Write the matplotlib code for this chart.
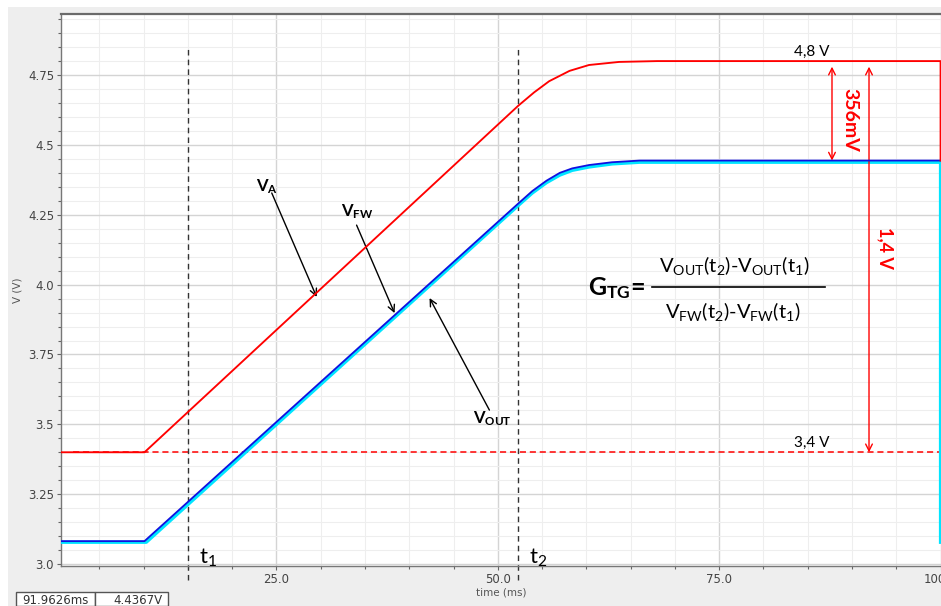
import matplotlib
matplotlib.use("Agg")
import matplotlib.pyplot as plt
from matplotlib.ticker import MultipleLocator
from matplotlib.patches import Rectangle

plt.rcParams["mathtext.fontset"] = "custom"
plt.rcParams["mathtext.rm"] = "Lato"
plt.rcParams["mathtext.it"] = "Lato:italic"
plt.rcParams["mathtext.bf"] = "Lato:bold"

# ---- waveform data (time in ms, voltage in V) ----
t_va = [0.67, 10.1, 52.3, 54.1, 55.8, 58.1, 60.3, 63.7, 68.0, 100.0, 100.0]
v_va = [3.40, 3.40, 4.640, 4.688, 4.728, 4.765, 4.786, 4.797, 4.800, 4.800, 4.444]

t_fw = [0.67, 10.1, 52.3, 53.9, 55.5, 57.0, 58.4, 60.3, 62.9, 66.0, 100.0]
v_fw = [3.082, 3.082, 4.290, 4.335, 4.372, 4.400, 4.416, 4.428, 4.438, 4.444, 4.444]

t_out = [0.67, 10.3, 52.3, 53.9, 55.5, 57.0, 58.4, 60.3, 62.9, 66.0, 100.0, 100.0]
v_out = [3.078, 3.078, 4.283, 4.328, 4.365, 4.392, 4.409, 4.421, 4.432, 4.438, 4.438, 3.078]

ref_level = 3.40
ref_span = [2.0, 100.0]
v_top = 4.80
t1 = 15.0
t2 = 52.3

x_ticks = [25.0, 50.0, 75.0, 100.0]
x_ticklabels = ["25.0", "50.0", "75.0", "100.0"]
y_ticks = [3.0, 3.25, 3.5, 3.75, 4.0, 4.25, 4.5, 4.75]
y_ticklabels = ["3.0", "3.25", "3.5", "3.75", "4.0", "4.25", "4.5", "4.75"]

W, H = 941, 606
fig = plt.figure(figsize=(W / 100, H / 100), dpi=100)
fig.patch.set_facecolor("white")
fig.patches.append(Rectangle((8 / W, 0), 1, 1 - 7 / H, transform=fig.transFigure,
                             facecolor="#eeeeee", edgecolor="none", zorder=-10))

ax = fig.add_axes([61 / W, 1 - 566 / H, 880 / W, 552 / H])
ax.set_facecolor("white")
ax.set_xlim(0.67, 100.05)
ax.set_ylim(2.993, 4.9685)

ax.set_xticks(x_ticks)
ax.set_xticklabels(x_ticklabels)
ax.set_yticks(y_ticks)
ax.set_yticklabels(y_ticklabels)
ax.xaxis.set_minor_locator(MultipleLocator(5))
ax.yaxis.set_minor_locator(MultipleLocator(0.05))
ax.tick_params(which="both", labelsize=8.5, labelcolor="#444444", color="#666666", width=0.8)
ax.tick_params(which="major", length=3, pad=2)
ax.tick_params(which="minor", length=2)

ax.grid(which="major", color="#d4d4d4", lw=1.0)
ax.grid(which="minor", color="#eeeeee", lw=0.8)
ax.set_axisbelow(True)

for side in ("left", "bottom"):
    ax.spines[side].set_color("#777777")
    ax.spines[side].set_linewidth(1.0)
ax.spines["top"].set_color("#6a6a6a")
ax.spines["top"].set_linewidth(1.6)
ax.spines["right"].set_visible(False)

ax.set_xlabel("time (ms)", fontsize=7.5, color="#555555", labelpad=1)
ax.set_ylabel("V (V)", fontsize=7.5, color="#555555", labelpad=4)

# reference level and marker lines
ax.plot(ref_span, [ref_level, ref_level], color="red", lw=1.1, ls=(0, (4, 2.5)), zorder=2)
for tm in (t1, t2):
    ax.plot([tm, tm], [2.943, 4.843], color="#333333", lw=1.0, ls=(0, (4, 3)),
            clip_on=False, zorder=2)

# signals
ax.plot(t_out, v_out, color="#00e5ff", lw=2.4, zorder=3, solid_joinstyle="round")
ax.plot(t_fw, v_fw, color="#1010e0", lw=1.3, zorder=4, solid_joinstyle="round")
ax.plot(t_va, v_va, color="red", lw=1.35, zorder=5, solid_joinstyle="round")

# signal name labels with arrows
sig_font = dict(fontfamily="Lato", fontweight="bold", fontsize=12, color="black")
arrow_black = dict(arrowstyle="->", color="black", lw=1.0, shrinkA=0, shrinkB=0,
                   mutation_scale=12)
ax.annotate("", xy=(29.54, 3.956), xytext=(24.47, 4.328), arrowprops=arrow_black)
ax.text(23.9, 4.335, r"V$_\mathbf{A}$", ha="center", va="baseline", **sig_font)
ax.annotate("", xy=(38.34, 3.898), xytext=(34.05, 4.213), arrowprops=arrow_black)
ax.text(34.1, 4.245, r"V$_\mathbf{FW}$", ha="center", va="baseline", **sig_font)
ax.annotate("", xy=(42.29, 3.952), xytext=(49.05, 3.551), arrowprops=arrow_black)
ax.text(49.4, 3.505, r"V$_\mathbf{OUT}$", ha="center", va="baseline", **sig_font)

# time markers
ax.text(16.2, 3.0, r"t$_1$", fontfamily="Lato", fontsize=16, color="black",
        ha="left", va="baseline", clip_on=False)
ax.text(53.5, 3.0, r"t$_2$", fontfamily="Lato", fontsize=16, color="black",
        ha="left", va="baseline", clip_on=False)

# level labels
ax.text(85.4, 4.818, "4,8 V", fontfamily="Lato", fontsize=11, color="black",
        ha="center", va="baseline")
ax.text(85.5, 3.419, "3,4 V", fontfamily="Lato", fontsize=11, color="black",
        ha="center", va="baseline")

# difference arrows
arrow_red = dict(arrowstyle="<->", color="red", lw=1.0, shrinkA=0, shrinkB=0,
                 mutation_scale=12)
ax.annotate("", xy=(87.74, v_top - 0.02), xytext=(87.74, v_fw[-1]), arrowprops=arrow_red)
ax.text(89.8, 4.589, "356mV", fontfamily="Lato", fontweight="bold", fontsize=14,
        color="red", rotation=270, ha="center", va="center")
ax.annotate("", xy=(91.92, v_top - 0.02), xytext=(91.92, ref_level), arrowprops=arrow_red)
ax.text(93.7, 4.131, "1,4 V", fontfamily="Lato", fontweight="bold", fontsize=13,
        color="red", rotation=270, ha="center", va="center")

# gain formula
ax.text(60.2, 3.963, r"G$_\mathbf{TG}$=", fontfamily="Lato", fontweight="bold",
        fontsize=18, color="black", ha="left", va="baseline")
ax.text(76.7, 4.045, r"V$_\mathrm{OUT}$(t$_2$)-V$_\mathrm{OUT}$(t$_1$)", fontfamily="Lato",
        fontsize=14.5, color="black", ha="center", va="baseline")
ax.plot([67.4, 86.9], [3.992, 3.992], color="black", lw=1.2, zorder=6)
ax.text(76.5, 3.881, r"V$_\mathrm{FW}$(t$_2$)-V$_\mathrm{FW}$(t$_1$)", fontfamily="Lato",
        fontsize=14.5, color="black", ha="center", va="baseline")

# cursor readout boxes
for x0, x1 in ((16, 95), (95, 168)):
    fig.patches.append(Rectangle((x0 / W, 0), (x1 - x0) / W, (606 - 592) / H,
                                 transform=fig.transFigure, facecolor="white",
                                 edgecolor="#555555", lw=1.0))
fig.text(22 / W, 1 - 604 / H, "91.9626ms", fontsize=8.5, color="#333333",
         ha="left", va="baseline")
fig.text(163 / W, 1 - 604 / H, "4.4367V", fontsize=8.5, color="#333333",
         ha="right", va="baseline")

fig.savefig("out.png", dpi=100, facecolor=fig.get_facecolor())
